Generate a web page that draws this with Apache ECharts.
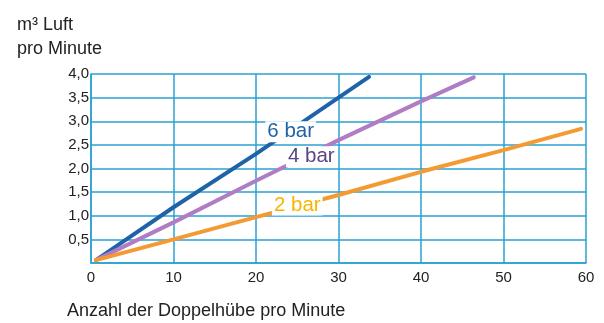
<!DOCTYPE html>
<html><head><meta charset="utf-8">
<script src="https://cdn.jsdelivr.net/npm/echarts@6/dist/echarts.min.js"></script>
<style>html,body{margin:0;padding:0;background:#fff}#c{width:604px;height:323px}</style>
</head><body><div id="c"></div>
<script>
var yTitle = 'm³ Luft\npro Minute';
var xTitle = 'Anzahl der Doppelhübe pro Minute';
var seriesNames = ['6 bar', '4 bar', '2 bar'];
var data6 = [[0.6,0.06],[10,1.18],[20,2.31],[30,3.5],[33.7,3.94]];
var data4 = [[0.6,0.06],[10,0.86],[20,1.74],[30,2.6],[40,3.42],[46.4,3.93]];
var data2 = [[0.6,0.06],[10,0.5],[20,0.97],[30,1.44],[40,1.93],[50,2.39],[59.4,2.84]];
var labelPos = [[24.2,2.78],[26.7,2.25],[25.0,1.23]];
var lineColors = ['#1f62a8','#b07cc4','#f39a32'];
var labelColors = ['#1f62a8','#5a4585','#f7b500'];
var allData = [data6, data4, data2];
var FONT = 'Liberation Sans, Arial, sans-serif';
var gridColor = '#2aa0d2';

var chart = echarts.init(document.getElementById('c'));
chart.setOption({
  animation: false,
  textStyle: {fontFamily: FONT},
  title: [
    {text: yTitle, left: 12, top: 8, textStyle: {fontSize: 18, fontWeight: 'normal', color: '#222', lineHeight: 24, fontFamily: FONT}},
    {text: xTitle, left: 62, top: 297, textStyle: {fontSize: 18, fontWeight: 'normal', color: '#222', fontFamily: FONT}}
  ],
  grid: {left: 91, right: 18, top: 74, bottom: 60},
  xAxis: {
    type: 'value', min: 0, max: 60, interval: 10,
    axisLine: {show: true, lineStyle: {color: gridColor, width: 1.5}},
    axisTick: {show: false},
    axisLabel: {fontSize: 15, color: '#222', margin: 7, fontFamily: FONT},
    splitLine: {show: true, lineStyle: {color: gridColor, width: 1.5}}
  },
  yAxis: {
    type: 'value', min: 0, max: 4, interval: 0.5,
    axisLine: {show: true, lineStyle: {color: gridColor, width: 1.5}},
    axisTick: {show: false},
    axisLabel: {fontSize: 15, color: '#222', margin: 2, fontFamily: FONT,
      formatter: function(v){ return v === 0 ? '' : v.toFixed(1).replace('.', ','); }},
    splitLine: {show: true, lineStyle: {color: gridColor, width: 1.5}}
  },
  series: seriesNames.map(function(n, i){
    return {
      name: n, type: 'line', data: allData[i], showSymbol: false, symbol: 'none',
      lineStyle: {color: lineColors[i], width: 4, cap: 'round'},
      markPoint: {
        symbol: 'circle', symbolSize: 1,
        itemStyle: {color: 'rgba(0,0,0,0)'},
        data: [{coord: labelPos[i], value: n}],
        label: {show: true, formatter: n, color: labelColors[i], fontSize: 20.5, fontFamily: FONT,
          backgroundColor: '#fff', padding: [0,2], position: 'inside'}
      }
    };
  })
});
</script></body></html>
